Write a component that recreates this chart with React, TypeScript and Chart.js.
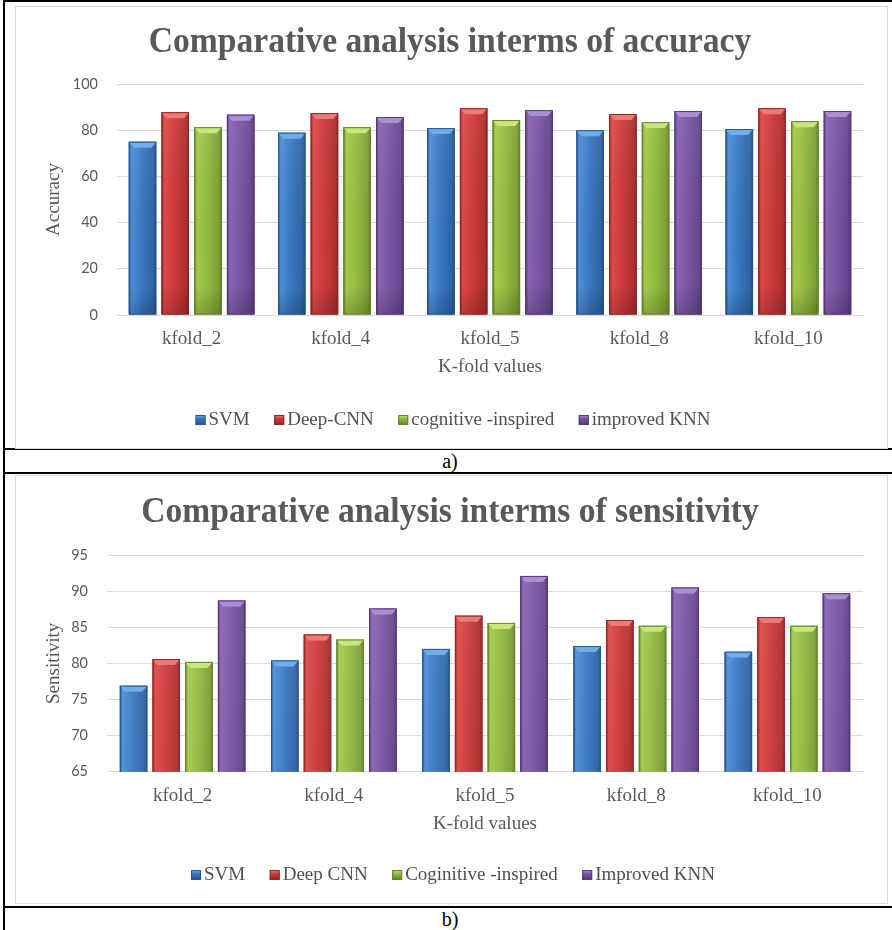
import React, { useEffect, useRef } from "react";
import { Chart, registerables } from "chart.js";

Chart.register(...registerables);

const CATEGORIES = ["kfold_2", "kfold_4", "kfold_5", "kfold_8", "kfold_10"];

const ACC_TITLE = "Comparative analysis interms of accuracy";
const ACC_SERIES_NAMES = ["SVM", "Deep-CNN", "cognitive -inspired", "improved KNN"];
const ACC_SVM = [75.0, 78.9, 80.9, 80.0, 80.5];
const ACC_DEEPCNN = [87.8, 87.4, 89.5, 87.0, 89.5];
const ACC_COGNITIVE = [81.3, 81.3, 84.4, 83.5, 83.9];
const ACC_KNN = [86.7, 85.7, 88.7, 88.3, 88.3];
const ACC_TICKS = { min: 0, max: 100, step: 20 };

const SEN_TITLE = "Comparative analysis interms of sensitivity";
const SEN_SERIES_NAMES = ["SVM", "Deep CNN", "Coginitive -inspired", "Improved KNN"];
const SEN_SVM = [76.9, 80.4, 82.0, 82.4, 81.6];
const SEN_DEEPCNN = [80.6, 84.0, 86.6, 86.0, 86.4];
const SEN_COGNITIVE = [80.2, 83.3, 85.6, 85.2, 85.2];
const SEN_KNN = [88.7, 87.6, 92.1, 90.5, 89.7];
const SEN_TICKS = { min: 65, max: 95, step: 5 };

const X_TITLE = "K-fold values";

const PALETTES = [
  { base: "#3a78c0", dark: "#264f86", light: "#4d8fd8", mid: "#3a79c3", mid2: "#2f64a6", top: "#6faee9", edge: "#2a5590" },
  { base: "#cc3a3a", dark: "#8e2222", light: "#dd4a48", mid: "#cf3b3b", mid2: "#b02f2f", top: "#ec7b78", edge: "#962626" },
  { base: "#93bb42", dark: "#617f25", light: "#a3cb4c", mid: "#94bd42", mid2: "#7ea136", top: "#c8e67d", edge: "#66852a" },
  { base: "#7b56a3", dark: "#4f3472", light: "#8a64b3", mid: "#7c57a6", mid2: "#68478f", top: "#ab8fd3", edge: "#553a7a" },
];

const SERIF = "'Liberation Serif', 'Times New Roman', serif";
const SANS = "Lato, 'Liberation Sans', sans-serif";
const GRAY = "#595959";

const bevelPlugin = {
  id: "bevelBars",
  afterDatasetsDraw(chart: any) {
    const ctx = chart.ctx;
    const area = chart.chartArea;
    ctx.save();
    ctx.beginPath();
    ctx.rect(area.left, area.top - 2, area.right - area.left, area.bottom - area.top + 2);
    ctx.clip();
    chart.data.datasets.forEach((_ds: any, di: number) => {
      const meta = chart.getDatasetMeta(di);
      const pal = PALETTES[di];
      meta.data.forEach((el: any) => {
        const { x, y, base, width } = el.getProps(["x", "y", "base", "width"], true);
        const left = x - width / 2;
        const right = x + width / 2;
        const top = Math.min(y, base);
        const bottom = Math.max(y, base);
        const h = bottom - top;
        const g = ctx.createLinearGradient(left, 0, right, 0);
        g.addColorStop(0, pal.dark);
        g.addColorStop(0.1, pal.light);
        g.addColorStop(0.45, pal.mid);
        g.addColorStop(0.88, pal.mid2);
        g.addColorStop(1, pal.dark);
        ctx.fillStyle = g;
        ctx.fillRect(left, top, width, h);
        const gv = ctx.createLinearGradient(0, top, 0, bottom);
        gv.addColorStop(0, "rgba(255,255,255,0.06)");
        gv.addColorStop(0.85, "rgba(0,0,0,0)");
        gv.addColorStop(1, "rgba(0,0,0,0.18)");
        ctx.fillStyle = gv;
        ctx.fillRect(left, top, width, h);
        const bh = Math.min(6, h / 2);
        ctx.beginPath();
        ctx.moveTo(left, top);
        ctx.lineTo(right, top);
        ctx.lineTo(right - 5, top + bh);
        ctx.lineTo(left + 5, top + bh);
        ctx.closePath();
        ctx.fillStyle = pal.top;
        ctx.fill();
        ctx.strokeStyle = pal.edge;
        ctx.lineWidth = 1;
        ctx.strokeRect(left + 0.5, top + 0.5, width - 1, h - 1);
      });
    });
    ctx.restore();
  },
};

// Title and legend drawn at Excel-like positions (centered on the chart box)
const overlayPlugin = {
  id: "overlayText",
  afterDraw(chart: any, _args: any, opts: any) {
    const ctx = chart.ctx;
    ctx.save();
    ctx.font = `bold ${opts.titleSize}px ${SERIF}`;
    ctx.fillStyle = GRAY;
    ctx.textAlign = "center";
    ctx.textBaseline = "alphabetic";
    ctx.translate(opts.centerX, opts.titleBaseline);
    ctx.scale(opts.titleScaleX, 1);
    ctx.fillText(opts.title, 0, 0);
    ctx.restore();

    ctx.save();
    const names: string[] = chart.data.datasets.map((d: any) => d.label);
    ctx.font = `19px ${SERIF}`;
    const widths = names.map((n) => ctx.measureText(n).width);
    const box = 10;
    const gapText = 3;
    const total = widths.reduce((s, w) => s + box + gapText + w, 0) + opts.legendGap * (names.length - 1);
    let x = opts.legendX - total / 2;
    const cy = opts.legendY;
    names.forEach((n, i) => {
      const pal = PALETTES[i];
      const g = ctx.createLinearGradient(0, cy - box / 2, 0, cy + box / 2);
      g.addColorStop(0, pal.top);
      g.addColorStop(0.35, pal.mid);
      g.addColorStop(1, pal.dark);
      ctx.fillStyle = g;
      ctx.fillRect(x, cy - box / 2, box, box);
      ctx.strokeStyle = pal.edge;
      ctx.lineWidth = 1;
      ctx.strokeRect(x + 0.5, cy - box / 2 + 0.5, box - 1, box - 1);
      ctx.fillStyle = "#505050";
      ctx.textAlign = "left";
      ctx.textBaseline = "middle";
      ctx.fillText(n, x + box + gapText, cy);
      x += box + gapText + widths[i] + opts.legendGap;
    });
    ctx.restore();
  },
};

type ChartSpec = {
  title: string;
  yTitle: string;
  names: string[];
  series: number[][];
  ticks: { min: number; max: number; step: number };
  width: number;
  height: number;
  yAxisWidth: number;
  categoryPct: number;
  topPad: number;
  titleBaseline: number;
  titleCenterX: number;
  xAxisHeight: number;
  xTickPad: number;
  xTitlePadBottom: number;
  yTitlePadTop: number;
  legendY: number;
  bottomPad: number;
};

function BarPanel({ spec }: { spec: ChartSpec }) {
  const ref = useRef<HTMLCanvasElement | null>(null);
  useEffect(() => {
    if (!ref.current) return;
    const chart = new Chart(ref.current, {
      type: "bar",
      data: {
        labels: CATEGORIES,
        datasets: spec.series.map((vals, i) => ({
          label: spec.names[i],
          data: vals,
          backgroundColor: PALETTES[i].base,
          borderWidth: 0,
          categoryPercentage: spec.categoryPct,
          barPercentage: 0.84,
        })),
      },
      options: {
        responsive: false,
        animation: false,
        devicePixelRatio: 1,
        layout: { padding: { left: 0, right: 24, top: spec.topPad, bottom: spec.bottomPad } },
        plugins: {
          title: { display: false },
          legend: { display: false },
          tooltip: { enabled: false },
          overlayText: {
            title: spec.title,
            titleSize: 35.5,
            titleScaleX: 0.946,
            centerX: spec.titleCenterX,
            titleBaseline: spec.titleBaseline,
            legendX: 437,
            legendY: spec.legendY,
            legendGap: 24.5,
          },
        } as any,
        scales: {
          x: {
            grid: { display: false, drawTicks: false },
            border: { display: false },
            ticks: { color: GRAY, font: { family: SERIF, size: 19 }, padding: spec.xTickPad },
            title: {
              display: true,
              text: X_TITLE,
              color: GRAY,
              font: { family: SERIF, size: 19 },
              padding: { top: 0, bottom: spec.xTitlePadBottom },
            },
            afterFit: (s: any) => {
              s.height = spec.xAxisHeight;
            },
          },
          y: {
            min: spec.ticks.min,
            max: spec.ticks.max,
            grid: { color: "#d9d9d9", lineWidth: 1, drawTicks: false },
            border: { display: false },
            ticks: { stepSize: spec.ticks.step, color: GRAY, font: { family: SANS, size: 14.5 }, padding: 19 },
            title: {
              display: true,
              text: spec.yTitle,
              color: GRAY,
              font: { family: SERIF, size: 19 },
              padding: { top: spec.yTitlePadTop, bottom: 0 },
            },
            afterFit: (s: any) => {
              s.width = spec.yAxisWidth;
            },
          },
        },
      },
      plugins: [bevelPlugin, overlayPlugin],
    });
    return () => chart.destroy();
  }, [spec]);
  return <canvas ref={ref} width={spec.width} height={spec.height} style={{ display: "block" }} />;
}

const SPEC_A: ChartSpec = {
  title: ACC_TITLE,
  yTitle: "Accuracy",
  names: ACC_SERIES_NAMES,
  series: [ACC_SVM, ACC_DEEPCNN, ACC_COGNITIVE, ACC_KNN],
  ticks: ACC_TICKS,
  width: 871,
  height: 441,
  yAxisWidth: 101,
  categoryPct: 0.877,
  topPad: 77,
  titleBaseline: 45,
  titleCenterX: 434,
  xAxisHeight: 75,
  xTickPad: 12.6,
  xTitlePadBottom: 11.6,
  yTitlePadTop: 27,
  legendY: 413,
  bottomPad: 58,
};

const SPEC_B: ChartSpec = {
  title: SEN_TITLE,
  yTitle: "Sensitivity",
  names: SEN_SERIES_NAMES,
  series: [SEN_SVM, SEN_DEEPCNN, SEN_COGNITIVE, SEN_KNN],
  ticks: SEN_TICKS,
  width: 871,
  height: 427,
  yAxisWidth: 91,
  categoryPct: 0.865,
  topPad: 79,
  titleBaseline: 46,
  titleCenterX: 434,
  xAxisHeight: 75,
  xTickPad: 12.9,
  xTitlePadBottom: 11.3,
  yTitlePadTop: 27,
  legendY: 399,
  bottomPad: 56.3,
};

const line = (style: React.CSSProperties) => (
  <div style={{ position: "absolute", background: "#000", ...style }} />
);

export default function App() {
  return (
    <div
      style={{
        position: "absolute",
        left: 0,
        top: 0,
        width: 892,
        height: 930,
        background: "#fff",
        overflow: "hidden",
        fontFamily: SERIF,
      }}
    >
      {line({ left: 3, top: 0, width: 889, height: 2 })}
      {line({ left: 3, top: 0, width: 2, height: 930 })}
      {line({ left: 3, top: 448, width: 889, height: 2 })}
      {line({ left: 3, top: 472, width: 889, height: 2 })}
      {line({ left: 3, top: 906, width: 889, height: 2 })}

      <div
        style={{
          position: "absolute",
          left: 15,
          top: 6,
          width: 871,
          height: 441,
          border: "1px solid #d9d9d9",
          background: "#fff",
        }}
      >
        <BarPanel spec={SPEC_A} />
      </div>
      <div style={{ position: "absolute", left: 0, width: 900, top: 450, height: 22, textAlign: "center", fontSize: 20, lineHeight: "22px", color: "#000" }}>
        a)
      </div>

      <div
        style={{
          position: "absolute",
          left: 15,
          top: 475,
          width: 871,
          height: 427,
          border: "1px solid #d9d9d9",
          background: "#fff",
        }}
      >
        <BarPanel spec={SPEC_B} />
      </div>
      <div style={{ position: "absolute", left: 0, width: 900, top: 908, height: 22, textAlign: "center", fontSize: 20, lineHeight: "22px", color: "#000" }}>
        b)
      </div>
    </div>
  );
}
